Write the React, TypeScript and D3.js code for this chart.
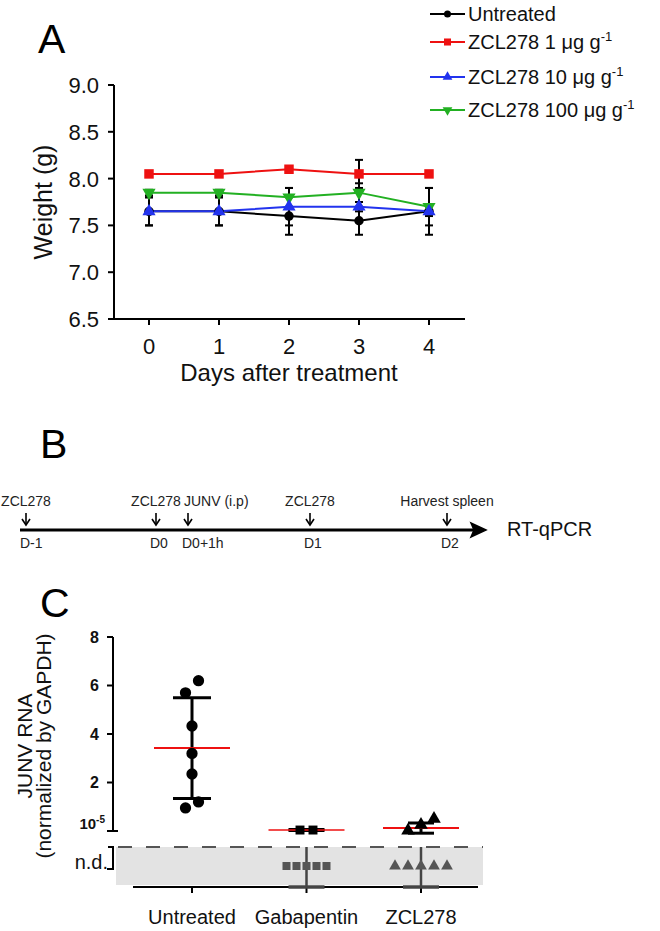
import React from "react";
import * as d3 from "d3";

const FONT = "'Liberation Sans', Arial, Helvetica, sans-serif";

// ---------- Panel A data ----------
const days = [0, 1, 2, 3, 4];
const yTicksA = [6.5, 7.0, 7.5, 8.0, 8.5, 9.0];
const untreated = [7.65, 7.65, 7.6, 7.55, 7.65];
const untreatedSD = [0.15, 0.15, 0.2, 0.15, 0.25];
const zcl1 = [8.05, 8.05, 8.1, 8.05, 8.05];
const zcl1SD = [0.03, 0.03, 0.02, 0.15, 0.03];
const zcl10 = [7.65, 7.65, 7.7, 7.7, 7.65];
const zcl10SD = [0.15, 0.15, 0.2, 0.05, 0.05];
const zcl100 = [7.85, 7.85, 7.8, 7.85, 7.7];
const zcl100SD = [0.03, 0.03, 0.1, 0.1, 0.2];
const seriesNames = ["Untreated", "ZCL278 1 μg g", "ZCL278 10 μg g", "ZCL278 100 μg g"];
const seriesSup = ["", "-1", "-1", "-1"];

// ---------- Panel B data ----------
const eventHours = [-24, 0, 1, 24, 48];
const eventTop = ["ZCL278", "ZCL278", "JUNV (i.p)", "ZCL278", "Harvest spleen"];
const eventBottom = ["D-1", "D0", "D0+1h", "D1", "D2"];

// ---------- Panel C data ----------
const categories = ["Untreated", "Gabapentin", "ZCL278"];
const untreatedRNA = [6.2, 5.7, 4.33, 3.2, 2.35, 1.2, 0.95];
const gabapentinRNA = [0.04, 0.04];
const zclRNA = [0.5, 0.25, 0.02];
const ndCounts = [0, 5, 5];
const meanRNA = [3.42, 0.04, 0.12];
const sdRNA = [2.08, 0.02, 0.21];
const yTicksC = [0, 2, 4, 6, 8];

type Series = { name: string; sup: string; values: number[]; sd: number[]; color: string; shape: string };

function markerPath(shape: string, size: number) {
  const t =
    shape === "circle" ? d3.symbolCircle :
    shape === "square" ? d3.symbolSquare :
    d3.symbolTriangle;
  return d3.symbol().type(t).size(size)() as string;
}

function Marker({ shape, x, y, color, size }: { shape: string; x: number; y: number; color: string; size: number }) {
  const rot = shape === "down" ? 180 : 0;
  return <path d={markerPath(shape, size)} transform={`translate(${x},${y}) rotate(${rot})`} fill={color} />;
}

// simple grouped jitter: points whose pixel y are close are spread symmetrically
function groupJitter(ys: number[], spacing: number, minDist: number) {
  const idx = ys.map((_, i) => i).sort((a, b) => ys[a] - ys[b]);
  const offsets = new Array(ys.length).fill(0);
  let group: number[] = [];
  const flush = () => {
    const n = group.length;
    group.forEach((gi, k) => {
      offsets[gi] = ((n - 1) / 2 - k) * spacing;
    });
    group = [];
  };
  idx.forEach((i) => {
    if (group.length && ys[i] - ys[group[group.length - 1]] >= minDist) flush();
    group.push(i);
  });
  flush();
  return offsets;
}

function PanelA() {
  const x = d3.scaleLinear().domain([-0.5, 4.5]).range([114, 464]);
  const y = d3.scaleLinear().domain([6.5, 9.0]).range([319, 85]);
  const series: Series[] = [
    { name: seriesNames[0], sup: seriesSup[0], values: untreated, sd: untreatedSD, color: "#000000", shape: "circle" },
    { name: seriesNames[1], sup: seriesSup[1], values: zcl1, sd: zcl1SD, color: "#ee1111", shape: "square" },
    { name: seriesNames[3], sup: seriesSup[3], values: zcl100, sd: zcl100SD, color: "#22b022", shape: "down" },
    { name: seriesNames[2], sup: seriesSup[2], values: zcl10, sd: zcl10SD, color: "#2233ee", shape: "up" },
  ];
  const legendOrder = [0, 1, 3, 2];
  const legendY = [14, 42, 77, 110];
  const line = d3.line<number>().x((_, i) => x(days[i])).y((v) => y(v));
  const sizeOf = (s: string) => (s === "circle" ? 70 : s === "square" ? 90 : 75);
  return (
    <g>
      <text x={38} y={53} fontSize={41} fontFamily={FONT}>A</text>
      {/* axes */}
      <line x1={114} x2={114} y1={y(9.0)} y2={y(6.5) + 1} stroke="#000" strokeWidth={2} />
      <line x1={113} x2={465} y1={y(6.5)} y2={y(6.5)} stroke="#000" strokeWidth={2} />
      {yTicksA.map((t) => (
        <g key={t}>
          <line x1={108} x2={114} y1={y(t)} y2={y(t)} stroke="#000" strokeWidth={2} />
          <text x={99} y={y(t)} dy="0.36em" textAnchor="end" fontSize={22} fontFamily={FONT} fill="#111">{t.toFixed(1)}</text>
        </g>
      ))}
      {days.map((d) => (
        <g key={d}>
          <line x1={x(d)} x2={x(d)} y1={y(6.5)} y2={y(6.5) + 6} stroke="#000" strokeWidth={2} />
          <text x={x(d)} y={354} textAnchor="middle" fontSize={22} fontFamily={FONT} fill="#111">{d}</text>
        </g>
      ))}
      <text x={289} y={381} textAnchor="middle" fontSize={24} fontFamily={FONT} fill="#111">Days after treatment</text>
      <text transform={`translate(52,${(y(9) + y(6.5)) / 2}) rotate(-90)`} textAnchor="middle" fontSize={25} fontFamily={FONT} fill="#111">Weight (g)</text>
      {/* lines */}
      {series.map((s) => (
        <path key={s.name} d={line(s.values) as string} fill="none" stroke={s.color} strokeWidth={2} />
      ))}
      {/* error bars */}
      {series.map((s) =>
        s.values.map((v, i) => (
          <g key={s.name + i} stroke="#000" strokeWidth={2}>
            <line x1={x(days[i])} x2={x(days[i])} y1={y(v - s.sd[i])} y2={y(v + s.sd[i])} />
            <line x1={x(days[i]) - 4} x2={x(days[i]) + 4} y1={y(v - s.sd[i])} y2={y(v - s.sd[i])} />
            <line x1={x(days[i]) - 4} x2={x(days[i]) + 4} y1={y(v + s.sd[i])} y2={y(v + s.sd[i])} />
          </g>
        ))
      )}
      {/* markers */}
      {series.map((s) =>
        s.values.map((v, i) => (
          <Marker key={s.name + "m" + i} shape={s.shape} x={x(days[i])} y={y(v)} color={s.color} size={sizeOf(s.shape)} />
        ))
      )}
      {/* legend */}
      {legendOrder.map((si, k) => {
        const s = series[si];
        const ly = legendY[k];
        return (
          <g key={"lg" + k}>
            <line x1={430} x2={465} y1={ly} y2={ly} stroke={s.color} strokeWidth={2} />
            <Marker shape={s.shape} x={447.5} y={ly} color={s.color} size={sizeOf(s.shape) * 0.55} />
            <text x={468} y={ly} dy="0.36em" fontSize={20} fontFamily={FONT} fill="#111">
              {s.name}
              {s.sup ? <tspan dy={-8} fontSize={13}>{s.sup}</tspan> : null}
            </text>
          </g>
        );
      })}
    </g>
  );
}

function PanelB() {
  const tx = d3.scaleLinear().domain(eventHours).range([26, 156, 188, 310, 447]);
  const ly = 530;
  return (
    <g>
      <text x={40} y={458} fontSize={41} fontFamily={FONT}>B</text>
      <line x1={20} x2={474} y1={ly} y2={ly} stroke="#000" strokeWidth={3} />
      <path d={`M486,${ly} L471,${ly - 7} L474,${ly} L471,${ly + 7} Z`} fill="#000" stroke="#000" strokeWidth={1.5} strokeLinejoin="miter" />
      {eventHours.map((h, i) => {
        const ex = tx(h);
        const start = eventTop[i].startsWith("JUNV");
        return (
          <g key={i}>
            <line x1={ex} x2={ex} y1={513} y2={525} stroke="#000" strokeWidth={1.6} />
            <path d={`M${ex - 4},${519} L${ex},${525} L${ex + 4},${519}`} fill="none" stroke="#000" strokeWidth={1.6} />
            <text x={start ? ex - 4 : ex} y={506} textAnchor={start ? "start" : "middle"} fontSize={14} fontFamily={FONT} fill="#222">{eventTop[i]}</text>
            <text x={ex - 6} y={548} textAnchor="start" fontSize={14} fontFamily={FONT} fill="#222">{eventBottom[i]}</text>
          </g>
        );
      })}
      <text x={507} y={529} dy="0.36em" fontSize={20} fontFamily={FONT} fill="#111">RT-qPCR</text>
    </g>
  );
}

function PanelC() {
  const y = d3.scaleLinear().domain([0, 8]).range([831, 637]);
  const x = d3.scalePoint<string>().domain(categories).range([192, 421]);
  const detected = [untreatedRNA, gabapentinRNA, zclRNA];
  const shapes = ["circle", "square", "up"];
  const ndSpacing = [0, 10, 13];
  const ndY = 866;
  const bandTop = 847;
  const bandBottom = 885;
  const axisY = 887;
  return (
    <g>
      <text x={40} y={617} fontSize={41} fontFamily={FONT}>C</text>
      {/* n.d. band */}
      <rect x={116} y={bandTop} width={367} height={bandBottom - bandTop} fill="#e3e3e3" />
      <line x1={118} x2={483} y1={bandTop} y2={bandTop} stroke="#555" strokeWidth={2} strokeDasharray="14,14" />
      {/* y axis upper */}
      <line x1={113} x2={113} y1={y(8)} y2={y(0)} stroke="#000" strokeWidth={2} />
      {yTicksC.map((t) => (
        <g key={t}>
          <line x1={107} x2={t === 0 ? 118 : 113} y1={y(t)} y2={y(t)} stroke="#000" strokeWidth={2} />
          {t === 0 ? (
            <text x={105} y={y(t) - 2} textAnchor="end" fontSize={15} fontWeight="bold" fontFamily={FONT} fill="#111">
              10<tspan dy={-6} fontSize={10}>-5</tspan>
            </text>
          ) : (
            <text x={99} y={y(t)} dy="0.36em" textAnchor="end" fontSize={16} fontWeight="bold" fontFamily={FONT} fill="#111">{t}</text>
          )}
        </g>
      ))}
      {/* y axis lower bracket */}
      <path d={`M108,${bandTop} L113,${bandTop} L113,869 L107,869`} fill="none" stroke="#000" strokeWidth={2} />
      <text x={108} y={869} textAnchor="end" fontSize={20} fontFamily={FONT} fill="#111">n.d.</text>
      {/* axis title */}
      <text transform={`translate(32,746) rotate(-90)`} textAnchor="middle" fontSize={21} fontFamily={FONT} fill="#111">JUNV RNA</text>
      <text transform={`translate(51,746) rotate(-90)`} textAnchor="middle" fontSize={21} fontFamily={FONT} fill="#111">(normalized by GAPDH)</text>
      {/* x axis */}
      <line x1={133} x2={478} y1={axisY} y2={axisY} stroke="#000" strokeWidth={2} />
      {categories.map((c) => (
        <g key={c}>
          <line x1={x(c)!} x2={x(c)!} y1={axisY} y2={axisY + 6} stroke="#000" strokeWidth={2} />
          <text x={x(c)!} y={924} textAnchor="middle" fontSize={20} fontFamily={FONT} fill="#111">{c}</text>
        </g>
      ))}
      {/* n.d. error bars */}
      {categories.map((c, ci) =>
        ndCounts[ci] > 0 ? (
          <g key={"nd" + c} stroke="#444" strokeWidth={2.5}>
            <line x1={x(c)!} x2={x(c)!} y1={bandTop} y2={axisY} />
            <line x1={x(c)! - 18} x2={x(c)! + 18} y1={axisY} y2={axisY} strokeWidth={3.5} />
          </g>
        ) : null
      )}
      {/* n.d. points */}
      {categories.map((c, ci) =>
        d3.range(ndCounts[ci]).map((k) => (
          <Marker key={"ndp" + ci + k} shape={shapes[ci]} x={x(c)! + (k - (ndCounts[ci] - 1) / 2) * ndSpacing[ci]} y={ndY} color="#555" size={ci === 1 ? 64 : 60} />
        ))
      )}
      {/* SD bars */}
      {categories.map((c, ci) => {
        const cx = x(c)!;
        const top = y(meanRNA[ci] + sdRNA[ci]);
        const bot = y(meanRNA[ci] - sdRNA[ci]);
        const hw = ci === 0 ? 19 : ci === 1 ? 18 : 13;
        return (
          <g key={"sd" + c} stroke="#000" strokeWidth={3}>
            <line x1={cx} x2={cx} y1={top} y2={bot} />
            <line x1={cx - hw} x2={cx + hw} y1={top} y2={top} />
            <line x1={cx - hw} x2={cx + hw} y1={bot} y2={bot} />
          </g>
        );
      })}
      {/* mean lines */}
      {categories.map((c, ci) => (
        <line key={"mean" + c} x1={x(c)! - 38} x2={x(c)! + 38} y1={y(meanRNA[ci])} y2={y(meanRNA[ci])} stroke="#ee1111" strokeWidth={ci === 1 ? 1.5 : 2} />
      ))}
      {/* detected points */}
      {categories.map((c, ci) => {
        const ys = detected[ci].map((v) => y(v));
        const offs = groupJitter(ys, 13, 13);
        return detected[ci].map((v, k) => (
          <Marker key={"p" + ci + k} shape={shapes[ci]} x={x(c)! + offs[k]} y={y(v)} color="#000" size={ci === 0 ? 100 : 80} />
        ));
      })}
    </g>
  );
}

export default function App() {
  return (
    <svg width={660} height={931} viewBox="0 0 660 931" style={{ position: "absolute", left: 0, top: 0, background: "#fff" }}>
      <rect width={660} height={931} fill="#fff" />
      <PanelA />
      <PanelB />
      <PanelC />
    </svg>
  );
}
